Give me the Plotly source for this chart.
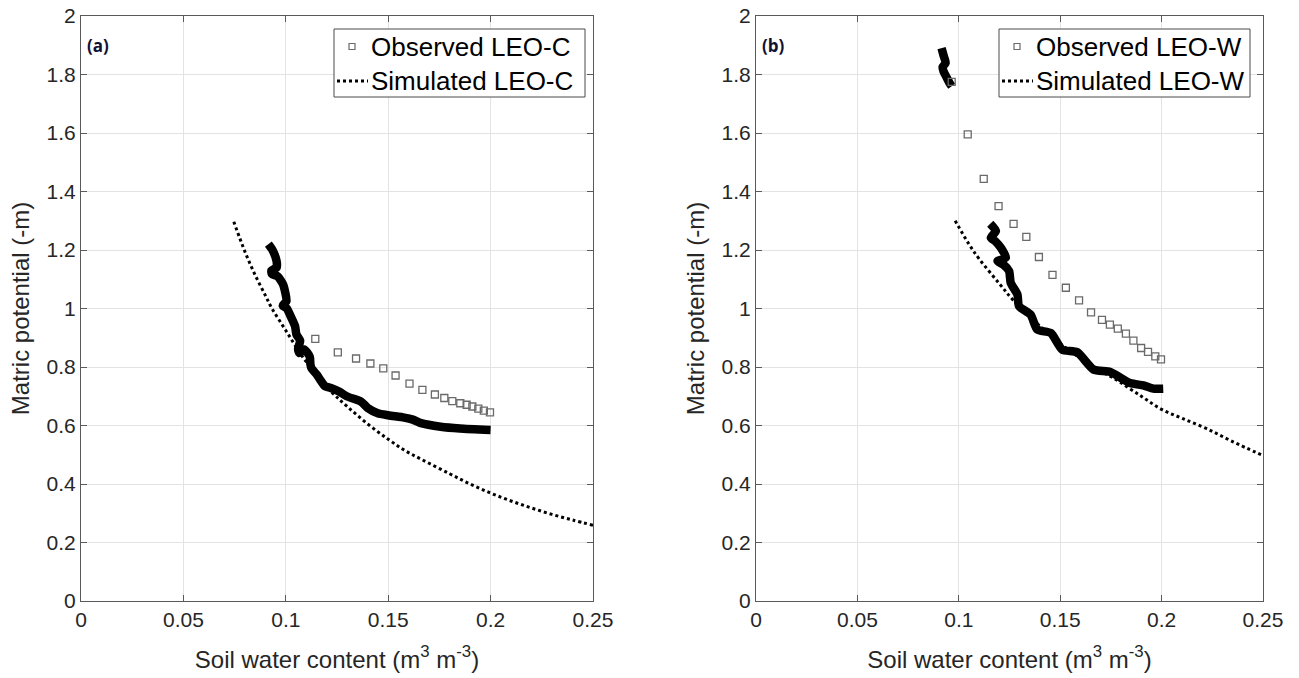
import plotly.graph_objects as go

# ---------------- data: panel (a) LEO-C ----------------
obs_c_x = [0.1144, 0.1254, 0.1343, 0.1413, 0.1476, 0.1536, 0.1604, 0.1667, 0.1728,
           0.1774, 0.1813, 0.1852, 0.1883, 0.1911, 0.1940, 0.1967, 0.1997]
obs_c_y = [0.896, 0.850, 0.829, 0.812, 0.795, 0.771, 0.743, 0.722, 0.706,
           0.694, 0.683, 0.676, 0.671, 0.665, 0.658, 0.651, 0.645]

dense_c_x = [0.0915, 0.0935, 0.0955, 0.0955, 0.0930, 0.0932, 0.0960, 0.0987, 0.1003, 0.0985,
             0.1005, 0.1020, 0.1045, 0.1052, 0.1070, 0.1060, 0.1065, 0.1090, 0.1117, 0.1120,
             0.1125, 0.1150, 0.1173, 0.1190, 0.1220, 0.1260, 0.1300, 0.1367, 0.1400, 0.1449,
             0.1500, 0.1578, 0.1620, 0.1660, 0.1756, 0.1850, 0.2000]
dense_c_y = [1.220, 1.200, 1.162, 1.140, 1.130, 1.118, 1.110, 1.082, 1.025, 1.010,
             1.000, 0.979, 0.940, 0.911, 0.890, 0.862, 0.848, 0.860, 0.835, 0.810,
             0.796, 0.775, 0.751, 0.735, 0.728, 0.716, 0.699, 0.682, 0.660, 0.642,
             0.635, 0.627, 0.620, 0.608, 0.596, 0.590, 0.585]

sim_c_x = [0.0746, 0.080, 0.085, 0.090, 0.0931, 0.100, 0.1092, 0.1222, 0.130, 0.140, 0.150,
           0.1578, 0.1663, 0.180, 0.190, 0.200, 0.210, 0.220, 0.230, 0.240, 0.250]
sim_c_y = [1.297, 1.195, 1.115, 1.045, 1.002, 0.925, 0.825, 0.716, 0.665, 0.605, 0.553,
           0.516, 0.484, 0.435, 0.400, 0.369, 0.342, 0.318, 0.296, 0.277, 0.259]

# ---------------- data: panel (b) LEO-W ----------------
obs_w_x = [0.0965, 0.1044, 0.1123, 0.1196, 0.1270, 0.1333, 0.1395, 0.1462, 0.1528, 0.1593,
           0.1652, 0.1706, 0.1745, 0.1784, 0.1824, 0.1861, 0.1899, 0.1933, 0.1969, 0.1997]
obs_w_y = [1.775, 1.595, 1.443, 1.350, 1.289, 1.245, 1.176, 1.115, 1.071, 1.028,
           0.987, 0.961, 0.945, 0.931, 0.914, 0.890, 0.865, 0.852, 0.836, 0.826]

dense_w_top_x = [0.0915, 0.0925, 0.0935, 0.0920, 0.0925, 0.0940, 0.0955, 0.0965]
dense_w_top_y = [1.890, 1.865, 1.840, 1.825, 1.810, 1.790, 1.770, 1.760]

dense_w_x = [0.1155, 0.1183, 0.1158, 0.1180, 0.1207, 0.1232, 0.1191, 0.1220, 0.1248, 0.1256,
             0.1289, 0.1297, 0.1354, 0.1387, 0.1454, 0.1510, 0.1583, 0.1665, 0.1747, 0.1845,
             0.1910, 0.1959, 0.2008]
dense_w_y = [1.290, 1.265, 1.242, 1.230, 1.208, 1.174, 1.162, 1.150, 1.128, 1.088,
             1.048, 1.008, 0.979, 0.928, 0.916, 0.859, 0.851, 0.791, 0.783, 0.745,
             0.737, 0.726, 0.726]

sim_w_x = [0.0982, 0.105, 0.110, 0.120, 0.1273, 0.140, 0.150, 0.160, 0.170, 0.1763,
           0.190, 0.200, 0.210, 0.222, 0.235, 0.250]
sim_w_y = [1.300, 1.220, 1.170, 1.085, 1.025, 0.940, 0.880, 0.830, 0.787, 0.762,
           0.700, 0.655, 0.625, 0.590, 0.545, 0.497]

x_ticks = [0, 0.05, 0.1, 0.15, 0.2, 0.25]
x_ticktext = ["0", "0.05", "0.1", "0.15", "0.2", "0.25"]
y_ticks = [0, 0.2, 0.4, 0.6, 0.8, 1.0, 1.2, 1.4, 1.6, 1.8, 2.0]
y_ticktext = ["0", "0.2", "0.4", "0.6", "0.8", "1", "1.2", "1.4", "1.6", "1.8", "2"]

panel_labels = ["(a)", "(b)"]
series_names = [("Observed LEO-C", "Simulated LEO-C"), ("Observed LEO-W", "Simulated LEO-W")]

FONT = "Liberation Sans, Arial, sans-serif"
OBS_COLOR = "#6a6a6a"

fig = go.Figure()


def add_panel(xa, ya, obs_x, obs_y, dense_parts, sim_x, sim_y, names):
    for dx, dy in dense_parts:
        fig.add_trace(go.Scatter(x=dx, y=dy, mode="lines", xaxis=xa, yaxis=ya,
                                 line=dict(color="black", width=8.5, shape="spline", smoothing=0.6),
                                 showlegend=False, hoverinfo="skip"))
    fig.add_trace(go.Scatter(x=obs_x, y=obs_y, mode="markers", xaxis=xa, yaxis=ya,
                             name=names[0], showlegend=False,
                             marker=dict(symbol="square-open", size=7, color=OBS_COLOR,
                                         line=dict(width=1.3, color=OBS_COLOR))))
    fig.add_trace(go.Scatter(x=sim_x, y=sim_y, mode="lines", xaxis=xa, yaxis=ya,
                             name=names[1], showlegend=False,
                             line=dict(color="black", width=3, dash="3px,3px",
                                       shape="spline", smoothing=1.0)))


add_panel("x", "y", obs_c_x, obs_c_y, [(dense_c_x, dense_c_y)], sim_c_x, sim_c_y, series_names[0])
add_panel("x2", "y2", obs_w_x, obs_w_y,
          [(dense_w_top_x, dense_w_top_y), (dense_w_x, dense_w_y)],
          sim_w_x, sim_w_y, series_names[1])

axis_common = dict(
    showline=True, linecolor="#5a5a5a", linewidth=1, mirror="ticks",
    ticks="inside", ticklen=6, tickcolor="#5a5a5a", automargin=False,
    showgrid=True, gridcolor="#e3e3e3", gridwidth=1, zeroline=False,
    tickfont=dict(family=FONT, size=21, color="#262626"),
)

W, H = 1299, 678
L, R, T, B = 81, W - 1263, 16, H - 601
pw = W - L - R


def px2dom(a, b):
    return [(a - L) / pw, (b - L) / pw]


xtitle = dict(text="Soil water content (m<sup>3</sup> m<sup>-3</sup>)",
              font=dict(family=FONT, size=24, color="#262626"), standoff=20)
ytitle = dict(text="Matric potential (-m)",
              font=dict(family=FONT, size=24, color="#262626"), standoff=10)

# ---- hand-drawn legend boxes (in pixel fractions of each panel's domain) ----
shapes = []
annotations = []
panel_axes = [("x", "y", 81, 512), ("x2", "y2", 756, 507)]
legend_boxes = [(334, 585), (999, 1250)]  # page px left/right of each legend box
for (xa, ya, x0px, wpx), (bl, br), names, lab in zip(panel_axes, legend_boxes, series_names, panel_labels):
    xd = f"{xa} domain"
    yd = f"{ya} domain"

    def fx(p):
        return (p - x0px) / wpx

    def fy(p):
        return (601 - p) / 585

    shapes.append(dict(type="rect", xref=xd, yref=yd, x0=fx(bl), x1=fx(br), y0=fy(97), y1=fy(29),
                       line=dict(color="#4a4a4a", width=1), fillcolor="white", layer="above"))
    # observed marker sample
    shapes.append(dict(type="rect", xref=xd, yref=yd, x0=fx(bl + 15), x1=fx(bl + 21),
                       y0=fy(49.5), y1=fy(43.5), line=dict(color=OBS_COLOR, width=1.2),
                       fillcolor="white", layer="above"))
    # simulated line sample
    shapes.append(dict(type="line", xref=xd, yref=yd, x0=fx(bl + 3), x1=fx(bl + 34),
                       y0=fy(81), y1=fy(81), line=dict(color="black", width=3, dash="3px,3px"),
                       layer="above"))
    for name, ypx in zip(names, [47, 81]):
        annotations.append(dict(text=name, xref=xd, yref=yd, x=fx(bl + 35), y=fy(ypx),
                                xanchor="left", yanchor="middle", showarrow=False,
                                font=dict(family=FONT, size=26, color="black")))
    annotations.append(dict(text=f"<b>{lab}</b>", xref=xd, yref=yd, x=fx(x0px + 4), y=fy(45),
                            xanchor="left", yanchor="middle", showarrow=False,
                            font=dict(family="Open Sans, sans-serif", size=17, color="#111133")))

fig.update_layout(
    width=W, height=H,
    margin=dict(l=L, r=R, t=T, b=B, autoexpand=False),
    paper_bgcolor="white", plot_bgcolor="white",
    font=dict(family=FONT, color="#262626"),
    showlegend=False,
    xaxis=dict(domain=px2dom(81, 593), range=[0, 0.25], tickvals=x_ticks, ticktext=x_ticktext,
               title=xtitle, anchor="y", **axis_common),
    yaxis=dict(domain=[0, 1], range=[0, 2], tickvals=y_ticks, ticktext=y_ticktext,
               title=ytitle, anchor="x", **axis_common),
    xaxis2=dict(domain=px2dom(756, 1263), range=[0, 0.25], tickvals=x_ticks, ticktext=x_ticktext,
                title=xtitle, anchor="y2", **axis_common),
    yaxis2=dict(domain=[0, 1], range=[0, 2], tickvals=y_ticks, ticktext=y_ticktext,
                title=ytitle, anchor="x2", **axis_common),
    shapes=shapes,
    annotations=annotations,
)

fig.write_html("out.html", config={"displayModeBar": False},
               post_script="document.body.style.margin='0';")
